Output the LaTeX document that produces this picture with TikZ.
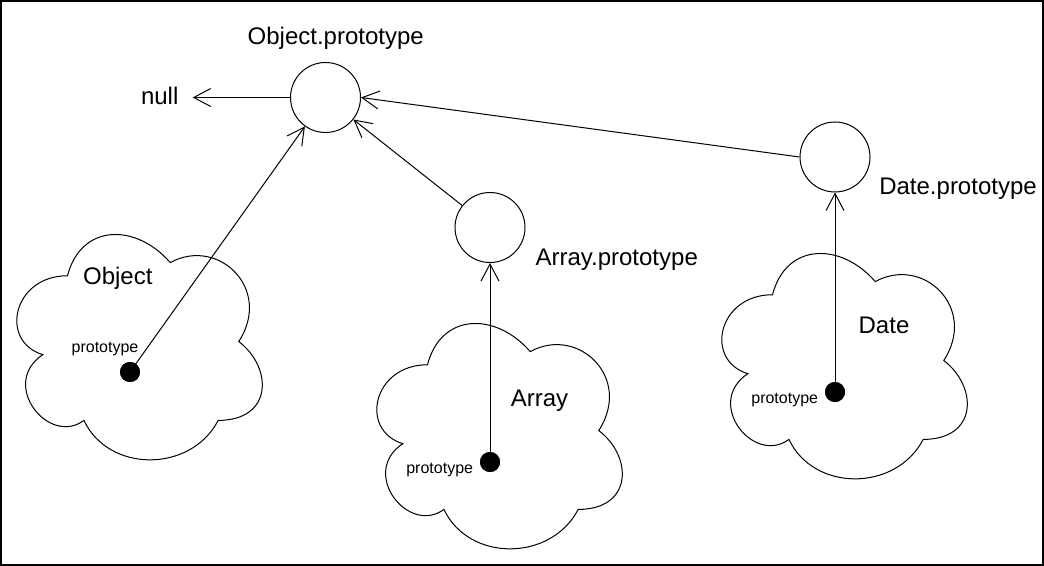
\documentclass[tikz,border=0pt]{standalone}
\usepackage{fontspec}
\setmainfont{Liberation Sans}
\usetikzlibrary{arrows.meta}
\newcommand\jscloud[4]{%
  \begin{scope}[shift={(#1,#2)},xscale=#3,yscale=#4]
    \draw[cloudline] (0.25,0.25) .. controls (0.05,0.25) and (0,0.5) .. (0.16,0.55)
      .. controls (0,0.66) and (0.18,0.9) .. (0.31,0.8)
      .. controls (0.4,1) and (0.7,1) .. (0.8,0.8)
      .. controls (1,0.8) and (1,0.6) .. (0.875,0.5)
      .. controls (1,0.3) and (0.8,0.1) .. (0.625,0.2)
      .. controls (0.5,0.05) and (0.3,0.05) .. (0.25,0.25) -- cycle;
  \end{scope}}
\begin{document}
\begin{tikzpicture}[x=0.75pt,y=-0.75pt,
  cloudline/.style={draw=black,fill=white,line width=0.75pt},
  proto/.style={circle,draw=black,fill=white,line width=0.75pt,minimum size=52.5pt,inner sep=0pt},
  slot/.style={circle,fill=black,minimum size=15pt,inner sep=0pt},
  biglabel/.style={font=\fontsize{18}{20}\selectfont,inner sep=0pt,anchor=base},
  smalllabel/.style={font=\fontsize{12}{14}\selectfont,inner sep=0pt,anchor=base},
  link/.style={draw=black,line width=0.75pt,-{Straight Barb[length=12.75pt,width=13.5pt]}}]
\useasboundingbox (0,0) rectangle (1044,566);
\fill[white] (0,0) rectangle (1044,566);
\draw[line width=1.5pt] (1,1) rectangle (1042.5,564.5);
% clouds
\jscloud{-1}{210}{274}{263}
\jscloud{359}{299}{274}{263}
\jscloud{704}{229}{274}{263}
% prototype circles
\node[proto] (op) at (325.5,97.5) {};
\node[proto] (ap) at (490,227.5) {};
\node[proto] (dp) at (835,157) {};
% labels
\node[biglabel] (opl) at (335.7,45) {Object.prototype};
\node[biglabel,inner xsep=10.5pt] (null) at (159.7,105) {null};
\node[biglabel] (objl) at (117.8,285) {Object};
\node[smalllabel] (objp) at (105,352.3) {prototype};
\node[biglabel] (apl) at (616.7,266) {Array.prototype};
\node[biglabel] (arrl) at (539.5,406.7) {Array};
\node[smalllabel] (arrp) at (439.7,473.3) {prototype};
\node[biglabel] (dpl) at (958,195) {Date.prototype};
\node[biglabel] (datel) at (884,333.3) {Date};
\node[smalllabel] (datep) at (784.7,403.3) {prototype};
% dots
\node[slot] (od) at (130,372) {};
\node[slot] (ad) at (490,462) {};
\node[slot] (dd) at (835,392) {};
% connectors
\draw[link] (op.west) -- (op.west -| null.east);
\draw[link] (od.center) -- (op);
\draw[link] (ap) -- (op);
\draw[link] (dp.west) -- (op.east);
\draw[link] (ad.center) -- (ap);
\draw[link] (dd.center) -- (dp);
% dots on top
\node[slot] at (od) {};
\node[slot] at (ad) {};
\node[slot] at (dd) {};
\end{tikzpicture}
\end{document}
